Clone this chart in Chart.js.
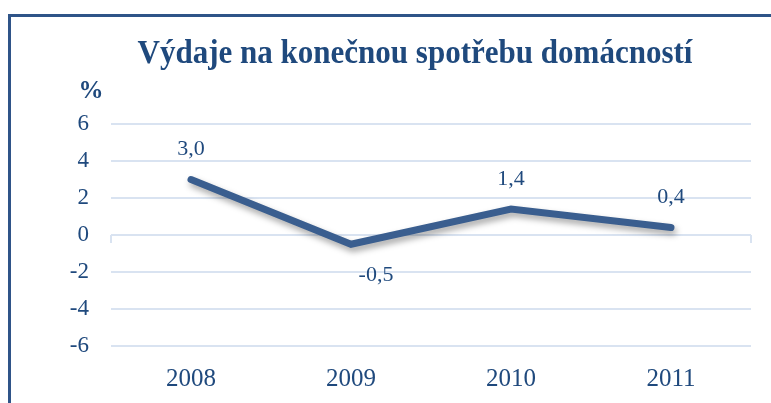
<!DOCTYPE html>
<html>
<head>
<meta charset="utf-8">
<script src="https://cdn.jsdelivr.net/npm/chart.js@4/dist/chart.umd.min.js"></script>
<style>
  html, body { margin: 0; padding: 0; background: #fff; overflow: hidden; }
  #wrap { position: relative; width: 771px; height: 403px; overflow: hidden; }
  #frame {
    position: absolute; left: 8px; top: 14px; width: 900px; height: 500px;
    border-top: 3px solid #2F5488; border-left: 3px solid #2F5488;
  }
  canvas { position: absolute; left: 0; top: 0; }
</style>
</head>
<body>
<div id="wrap">
  <div id="frame"></div>
  <canvas id="myChart" width="771" height="403"></canvas>
</div>
<script>
const years = ["2008", "2009", "2010", "2011"];
const spending = [3.0, -0.5, 1.4, 0.4];
const yTicks = [-6, -4, -2, 0, 2, 4, 6];
const chartTitle = "Výdaje na konečnou spotřebu domácností";
const unitLabel = "%";

const serif = "'Liberation Serif', 'Times New Roman', serif";
const darkBlue = "#1F497D";

// title, unit label, value labels, end ticks on the zero line
const extras = {
  id: "extras",
  beforeDatasetsDraw(chart) {
    const ctx = chart.ctx;
    ctx.save();
    ctx.shadowColor = "rgba(0,0,0,0.35)";
    ctx.shadowBlur = 6;
    ctx.shadowOffsetX = 2;
    ctx.shadowOffsetY = 4;
  },
  afterDatasetsDraw(chart) {
    const ctx = chart.ctx;
    ctx.restore();
    ctx.save();
    const area = chart.chartArea;
    const y0 = chart.scales.y.getPixelForValue(0);
    ctx.strokeStyle = "#D9E3F1";
    ctx.lineWidth = 2;
    ctx.beginPath();
    ctx.moveTo(area.left, y0); ctx.lineTo(area.left, y0 + 8);
    ctx.moveTo(area.right, y0); ctx.lineTo(area.right, y0 + 8);
    ctx.stroke();

    ctx.fillStyle = darkBlue;
    ctx.textAlign = "center";
    ctx.textBaseline = "middle";
    ctx.font = "22px " + serif;
    const meta = chart.getDatasetMeta(0);
    meta.data.forEach((pt, i) => {
      const v = spending[i];
      const txt = v.toFixed(1).replace(".", ",");
      if (v >= 0) ctx.fillText(txt, pt.x, pt.y - 30);
      else ctx.fillText(txt, pt.x + 25, pt.y + 31);
    });

    ctx.font = "bold 25px " + serif;
    ctx.fillText(unitLabel, 91, 92);

    // title is a bit condensed in the original
    ctx.font = "bold 33px " + serif;
    ctx.textBaseline = "alphabetic";
    ctx.translate(415, 63);
    ctx.scale(0.94, 1);
    ctx.fillText(chartTitle, 0, 0);
    ctx.restore();
  }
};

new Chart(document.getElementById("myChart").getContext("2d"), {
  type: "line",
  data: {
    labels: years,
    datasets: [{
      data: spending,
      borderColor: "#3A5E8F",
      borderWidth: 7,
      borderCapStyle: "round",
      borderJoinStyle: "miter",
      pointRadius: 0,
      tension: 0,
      fill: false
    }]
  },
  options: {
    responsive: false,
    animation: false,
    layout: { padding: { top: 124, right: 20, left: 0, bottom: 0 } },
    plugins: {
      legend: { display: false },
      title: { display: false },
      tooltip: { enabled: false }
    },
    scales: {
      x: {
        offset: true,
        grid: { display: false, drawTicks: false },
        border: { display: false },
        ticks: { color: darkBlue, font: { family: serif, size: 25 }, padding: 18 },
        afterFit(scale) { scale.height = 57; }
      },
      y: {
        min: -6,
        max: 6,
        afterBuildTicks(scale) { scale.ticks = yTicks.map(v => ({ value: v })); },
        grid: { color: "#D9E3F1", lineWidth: 2, drawTicks: false },
        border: { display: false },
        ticks: {
          color: darkBlue,
          font: { family: serif, size: 23 },
          padding: 22,
          callback: v => String(v)
        },
        afterFit(scale) { scale.width = 111; }
      }
    }
  },
  plugins: [extras]
});
</script>
</body>
</html>
